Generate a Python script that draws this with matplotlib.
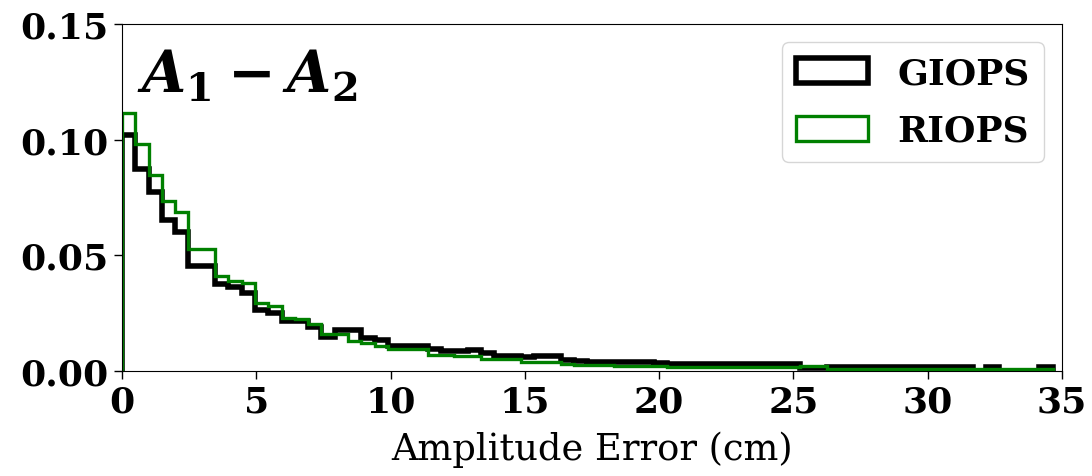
import numpy as np
import matplotlib
matplotlib.use('Agg')
import matplotlib.pyplot as plt

# histogram densities, 70 bins from 0 to ~34.65 cm
bin_edges = np.linspace(0, 34.65, 71)

giops = [0.1020, 0.0873, 0.0773, 0.0652, 0.0601, 0.0455, 0.0455, 0.0376, 0.0362, 0.0337,
         0.0265, 0.0250, 0.0216, 0.0216, 0.0190, 0.0146, 0.0177, 0.0177, 0.0144, 0.0134,
         0.0109, 0.0109, 0.0109, 0.0097, 0.0088, 0.0088, 0.0091, 0.0077, 0.0067, 0.0066,
         0.0059, 0.0064, 0.0064, 0.0048, 0.0042, 0.0041, 0.0040, 0.0040, 0.0039, 0.0039,
         0.0035, 0.0031, 0.0031, 0.0030, 0.0030, 0.0030, 0.0030, 0.0030, 0.0030, 0.0030,
         0.0030, 0.0012, 0.0012, 0.0018, 0.0018, 0.0018, 0.0018, 0.0018, 0.0018, 0.0018,
         0.0018, 0.0018, 0.0018, 0.0018, 0.0000, 0.0018, 0.0000, 0.0000, 0.0000, 0.0017]

riops = [0.1116, 0.0983, 0.0847, 0.0737, 0.0687, 0.0527, 0.0527, 0.0411, 0.0391, 0.0380,
         0.0296, 0.0279, 0.0230, 0.0225, 0.0203, 0.0160, 0.0158, 0.0130, 0.0123, 0.0109,
         0.0095, 0.0094, 0.0094, 0.0070, 0.0069, 0.0064, 0.0063, 0.0052, 0.0051, 0.0050,
         0.0040, 0.0039, 0.0038, 0.0031, 0.0027, 0.0024, 0.0024, 0.0023, 0.0023, 0.0022,
         0.0022, 0.0019, 0.0019, 0.0018, 0.0018, 0.0018, 0.0018, 0.0018, 0.0018, 0.0018,
         0.0018, 0.0021, 0.0021, 0.0009, 0.0009, 0.0009, 0.0009, 0.0009, 0.0009, 0.0009,
         0.0009, 0.0009, 0.0009, 0.0009, 0.0009, 0.0009, 0.0008, 0.0008, 0.0008, 0.0007]

plt.rcParams['font.family'] = 'DejaVu Serif'
plt.rcParams['mathtext.fontset'] = 'custom'
plt.rcParams['mathtext.it'] = 'DejaVu Serif:italic:bold'
plt.rcParams['mathtext.rm'] = 'DejaVu Serif:bold'
plt.rcParams['mathtext.bf'] = 'DejaVu Serif:bold'

fig = plt.figure(figsize=(10.92, 4.77), dpi=100)
ax = fig.add_axes([0.1117, 0.2201, 0.8608, 0.7275])

left = bin_edges[:-1]
ax.hist(left, bins=bin_edges, weights=giops, histtype='step',
        color='black', linewidth=4, label='GIOPS')
ax.hist(left, bins=bin_edges, weights=riops, histtype='step',
        color='green', linewidth=2.4, label='RIOPS')

ax.set_xlim(0, 35)
ax.set_ylim(0, 0.15)
ax.set_xticks(np.arange(0, 36, 5))
ax.set_yticks([0, 0.05, 0.10, 0.15])
ax.set_yticklabels(['0.00', '0.05', '0.10', '0.15'])
ax.tick_params(labelsize=26, length=6, width=1)
for lab in ax.get_xticklabels() + ax.get_yticklabels():
    lab.set_fontweight('bold')

ax.set_xlabel('Amplitude Error (cm)', fontsize=26.5, labelpad=9)

ax.text(0.016, 0.808, r'$A_1 - A_2$', transform=ax.transAxes,
        fontsize=41, va='baseline', ha='left')

ax.legend(loc='upper right', prop={'size': 26, 'weight': 'bold'},
          labelspacing=0.65)

plt.savefig('out.png', dpi=100)
